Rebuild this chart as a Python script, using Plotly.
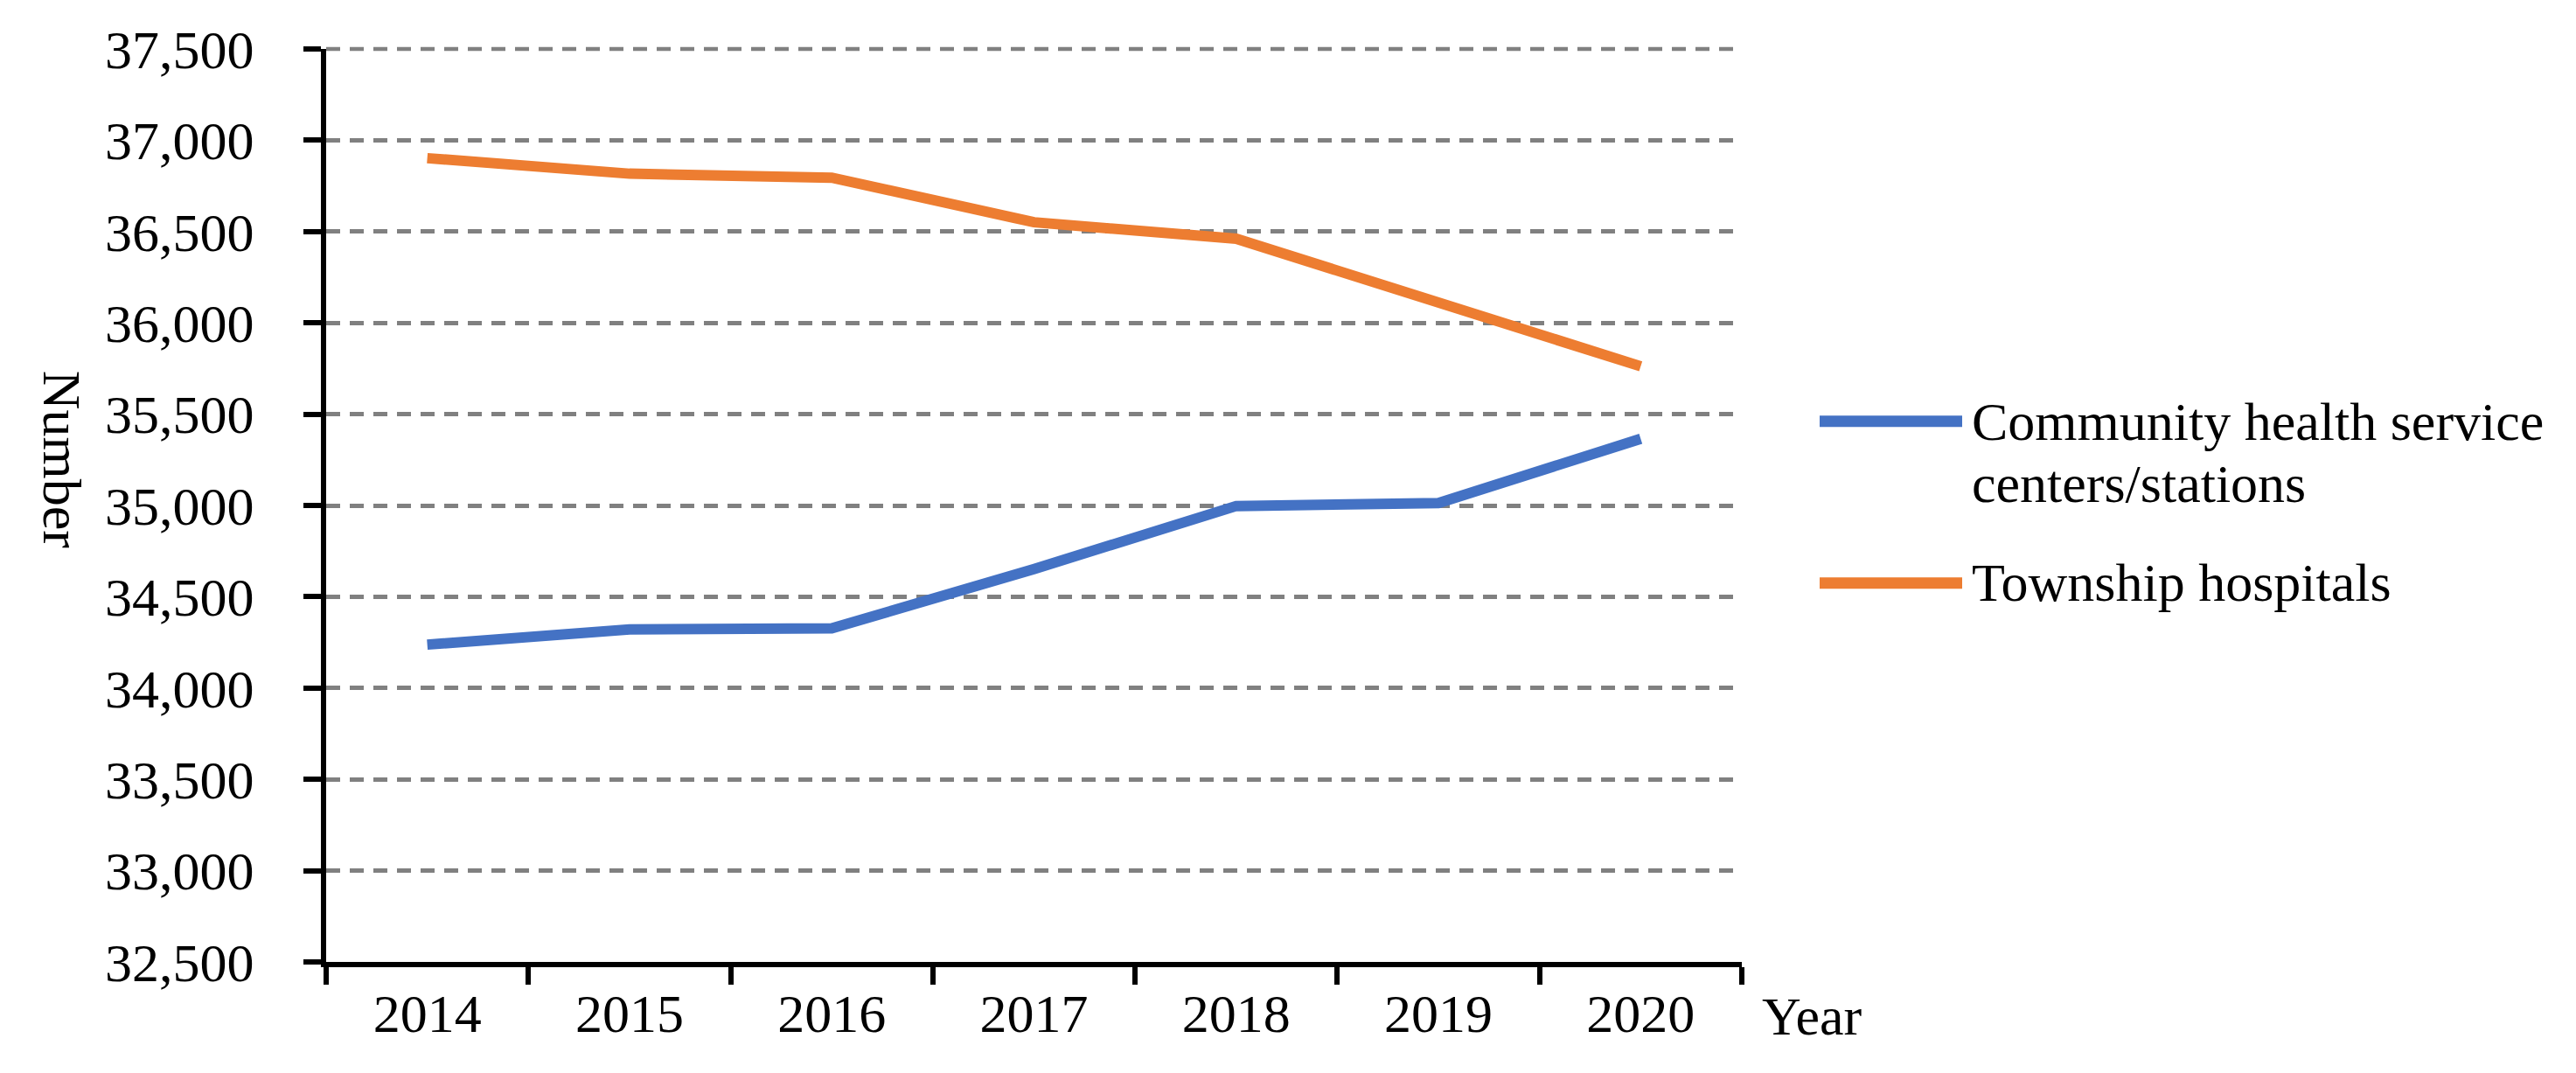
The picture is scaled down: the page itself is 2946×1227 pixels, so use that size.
import plotly.graph_objects as go

years = ["2014", "2015", "2016", "2017", "2018", "2019", "2020"]
community = [34238, 34321, 34327, 34652, 34997, 35013, 35365]
township = [36902, 36817, 36795, 36551, 36461, 36112, 35762]
legend_lines = [["Community health service", "centers/stations"], ["Township hospitals"]]
y_ticks = [32500, 33000, 33500, 34000, 34500, 35000, 35500, 36000, 36500, 37000, 37500]

BLUE = "#4472C4"
ORANGE = "#ED7D31"
GRID = "#808080"
FONT = "Liberation Serif"
FS = 62

# page has an 8px body margin: work in page coordinates and shift
OFF = 8
W, H = 2946 - 2 * OFF, 1227 - 2 * OFF
L, R_EDGE = 373 - OFF, 1992 - OFF
T, B_EDGE = 56 - OFF, 1100.5 - OFF


def px(x):
    return (x - OFF - L) / (R_EDGE - L)


def py(y):
    return (B_EDGE - (y - OFF)) / (B_EDGE - T)


fig = go.Figure()
fig.add_trace(go.Scatter(x=years, y=community, mode="lines",
                         name="Community health service centers/stations",
                         line=dict(color=BLUE, width=12), showlegend=False))
fig.add_trace(go.Scatter(x=years, y=township, mode="lines", name="Township hospitals",
                         line=dict(color=ORANGE, width=12), showlegend=False))

fig.update_layout(
    width=W, height=H,
    margin=dict(l=L, r=W - R_EDGE, t=T, b=H - B_EDGE, pad=0),
    paper_bgcolor="white", plot_bgcolor="white",
    font=dict(family=FONT, size=FS, color="black"),
    showlegend=False,
)
fig.update_xaxes(
    type="category", range=[-0.5, 6.5], tickson="boundaries",
    showline=True, linecolor="black", linewidth=6,
    ticks="outside", ticklen=20, tickwidth=6, tickcolor="black",
    showgrid=False, zeroline=False,
    tickfont=dict(family=FONT, size=FS, color="black"),
)
fig.update_yaxes(
    range=[y_ticks[0], y_ticks[-1]], tickvals=y_ticks, tickformat=",",
    showline=True, linecolor="black", linewidth=6,
    ticks="outside", ticklen=20, tickwidth=6, tickcolor="black",
    showgrid=True, gridcolor=GRID, gridwidth=4.5, griddash="16px,11px",
    zeroline=False, ticklabelstandoff=44,
    tickfont=dict(family=FONT, size=FS, color="black"),
)

# top gridline at the upper range edge (plotly omits it); paper ref so it is not clipped
fig.add_shape(type="line", xref="paper", yref="paper", x0=0, x1=1, y0=1, y1=1,
              line=dict(color=GRID, width=4.5, dash="16px,11px"), layer="below")

# legend (drawn manually to match long line samples)
legend_line_y = [482, 667]
legend_text_y = [[482, 553], [666]]
colors = [BLUE, ORANGE]
for i in range(2):
    fig.add_shape(type="line", xref="paper", yref="paper",
                  x0=px(2081), x1=px(2244), y0=py(legend_line_y[i]), y1=py(legend_line_y[i]),
                  line=dict(color=colors[i], width=13))
    for txt, ty in zip(legend_lines[i], legend_text_y[i]):
        fig.add_annotation(x=px(2253), y=py(ty), xref="paper", yref="paper",
                           text=txt, showarrow=False, xanchor="left", yanchor="middle",
                           align="left", font=dict(family=FONT, size=FS, color="black"))

fig.add_annotation(x=px(2013), y=py(1163), xref="paper", yref="paper", text="Year",
                   showarrow=False, xanchor="left", yanchor="middle",
                   font=dict(family=FONT, size=FS, color="black"))
fig.add_annotation(x=px(71), y=py(526), xref="paper", yref="paper", text="Number",
                   showarrow=False, xanchor="center", yanchor="middle", textangle=90,
                   font=dict(family=FONT, size=FS, color="black"))

fig.write_html("out.html")
